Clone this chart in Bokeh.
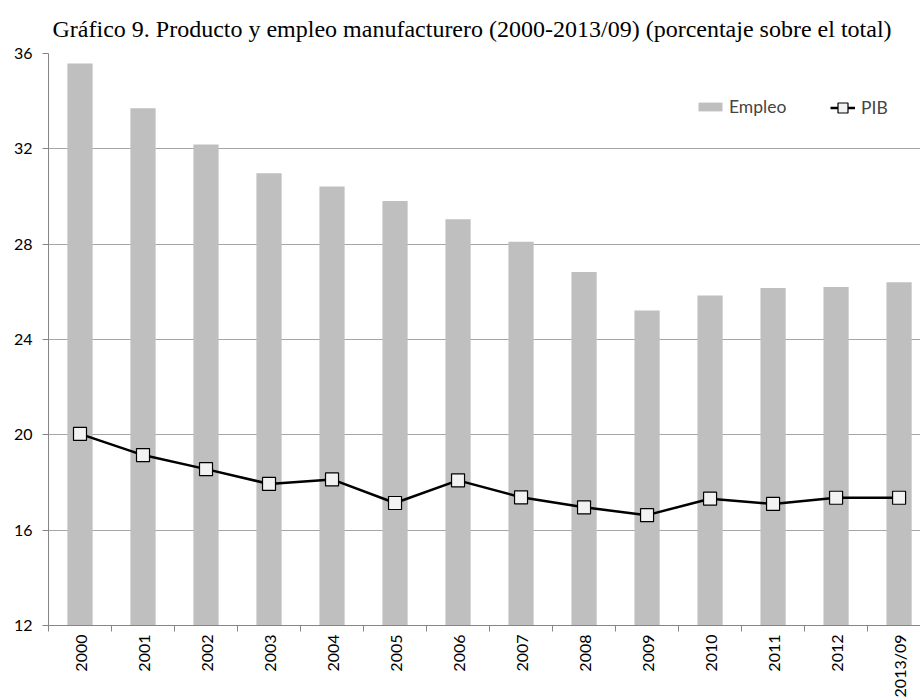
import math

from bokeh.embed import file_html
from bokeh.models import (ColumnDataSource, FixedTicker, Legend, LegendItem,
                          Range1d, Title)
from bokeh.plotting import figure
from bokeh.resources import INLINE

# Manufacturing share of total (%)
years = ["2000", "2001", "2002", "2003", "2004", "2005", "2006",
         "2007", "2008", "2009", "2010", "2011", "2012", "2013/09"]
empleo = [35.58, 33.70, 32.18, 30.98, 30.42, 29.81, 29.05,
          28.10, 26.83, 25.22, 25.85, 26.16, 26.20, 26.40]
pib = [20.04, 19.15, 18.56, 17.94, 18.13, 17.14, 18.09,
       17.38, 16.96, 16.63, 17.32, 17.10, 17.36, 17.36]
y_ticks = [12, 16, 20, 24, 28, 32, 36]

idx = list(range(len(years)))
src = ColumnDataSource(dict(x=idx, year=years, empleo=empleo, pib=pib))

AXIS_FONT = "Lato"
GRID = "#A6A6A6"

p = figure(width=920, height=700, output_backend="svg", toolbar_location=None,
           x_range=Range1d(-0.5, 13.34), y_range=Range1d(12, 36),
           min_border_left=48, min_border_right=0,
           min_border_top=53, min_border_bottom=74)
p.outline_line_color = None
p.background_fill_color = "white"
p.border_fill_color = "white"

p.title = Title(text="Gráfico 9. Producto y empleo manufacturero (2000-2013/09) (porcentaje sobre el total)",
                align="left", offset=4, text_font="Liberation Serif",
                text_font_size="24px", text_font_style="normal",
                text_color="black", standoff=23)

bars = p.vbar(x="x", top="empleo", bottom=12, width=0.4, source=src,
              fill_color="#BFBFBF", line_color=None)
line = p.line(x="x", y="pib", source=src, line_color="black", line_width=2.5)
marks = p.scatter(x="x", y="pib", source=src, marker="square", size=13,
                  fill_color="#F2F2F2", line_color="black", line_width=1.2)

# y axis
yax = p.yaxis[0]
yax.ticker = FixedTicker(ticks=y_ticks)
yax.axis_line_color = "#868686"
yax.major_tick_line_color = "#868686"
yax.major_tick_out = 6
yax.major_tick_in = 0
yax.minor_tick_line_color = None
yax.major_label_text_font = AXIS_FONT
yax.major_label_text_font_size = "16px"
yax.major_label_text_color = "black"
yax.major_label_standoff = 10

# x axis: labels at category centres, tick marks between categories
xax = p.xaxis[0]
xax.ticker = FixedTicker(ticks=idx, minor_ticks=[i - 0.5 for i in range(len(years) + 1)])
xax.major_label_overrides = {i: y for i, y in zip(idx, years)}
xax.major_label_orientation = math.pi / 2
xax.axis_line_color = "#868686"
xax.major_tick_line_color = None
xax.major_tick_out = 0
xax.major_tick_in = 0
xax.minor_tick_line_color = "#868686"
xax.minor_tick_out = 6
xax.minor_tick_in = 0
xax.major_label_text_font = AXIS_FONT
xax.major_label_text_font_size = "16px"
xax.major_label_text_color = "black"
xax.major_label_standoff = 3

p.xgrid.grid_line_color = None
p.ygrid.ticker = FixedTicker(ticks=y_ticks)
p.ygrid.grid_line_color = GRID
p.ygrid.grid_line_width = 1

# two legend blocks so the bar swatch stays flat while the line key keeps a visible marker
legend_bar = Legend(items=[LegendItem(label="Empleo", renderers=[bars])],
                    location=(647, 508),
                    border_line_color=None, background_fill_alpha=0,
                    label_text_font=AXIS_FONT, label_text_font_size="17.5px",
                    glyph_width=30, glyph_height=11,
                    padding=0, margin=0, label_standoff=4)
legend_line = Legend(items=[LegendItem(label="PIB", renderers=[line, marks])],
                     location=(782, 505),
                     border_line_color=None, background_fill_alpha=0,
                     label_text_font=AXIS_FONT, label_text_font_size="17.5px",
                     glyph_width=25, glyph_height=25,
                     padding=0, margin=0, label_standoff=6)
p.add_layout(legend_bar)
p.add_layout(legend_line)

open("out.html", "w").write(file_html(p, INLINE))
